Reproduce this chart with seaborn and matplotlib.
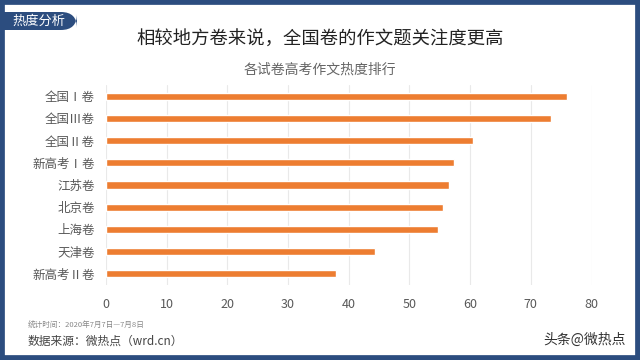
import matplotlib
matplotlib.use("Agg")
import matplotlib.pyplot as plt
import matplotlib.patches as mpatches
import seaborn as sns
import pandas as pd

# data
papers = ["全国Ⅰ卷", "全国Ⅲ卷", "全国Ⅱ卷", "新高考Ⅰ卷", "江苏卷",
          "北京卷", "上海卷", "天津卷", "新高考Ⅱ卷"]
heat = [75.9, 73.3, 60.5, 57.3, 56.6, 55.5, 54.7, 44.4, 37.9]
x_ticks = [0, 10, 20, 30, 40, 50, 60, 70, 80]

df = pd.DataFrame({"paper": papers, "heat": heat})

sns.set_theme(style="white")
plt.rcParams["font.family"] = ["Noto Sans CJK SC", "DejaVu Sans"]

frame_blue = "#2c4d7f"
orange = "#ED7D31"
gray = "#595959"

fig = plt.figure(figsize=(6.4, 3.6), dpi=100)
ax = fig.add_axes([106 / 640, 1 - 285 / 360, (591.5 - 106) / 640, 200 / 360])

sns.barplot(data=df, x="heat", y="paper", color=orange, width=0.32,
            saturation=1, ax=ax)

ax.set_xlim(0, 80)
ax.set_xticks(x_ticks)
ax.grid(axis="x", color="#e9e9e9", linewidth=0.8)
ax.set_axisbelow(True)
for s in ax.spines.values():
    s.set_visible(False)
ax.tick_params(axis="both", length=0, labelcolor=gray)
ax.tick_params(axis="y", labelsize=9, pad=8)
ax.tick_params(axis="x", labelsize=9, pad=9)
ax.set_xlabel("")
ax.set_ylabel("")

# frame around the card
fig.patches.append(mpatches.Rectangle((0, 0), 1, 1, transform=fig.transFigure,
                                      fill=False, edgecolor=frame_blue,
                                      linewidth=7, zorder=10))

# tag at top-left
fig.patches.append(mpatches.FancyBboxPatch((4 / 640, 1 - 30 / 360), 73 / 640, 18 / 360,
                                           boxstyle="round,pad=0,rounding_size=0.025",
                                           transform=fig.transFigure,
                                           facecolor=frame_blue, edgecolor="none",
                                           zorder=11, mutation_aspect=640 / 360))
fig.patches.append(mpatches.Rectangle((4 / 640, 1 - 30 / 360), 20 / 640, 18 / 360,
                                      transform=fig.transFigure,
                                      facecolor=frame_blue, edgecolor="none", zorder=11))
fig.text(12 / 640, 1 - 21 / 360, "热度分析", color="white", fontsize=9.5,
         va="center", ha="left", zorder=12)

fig.text(0.5, 1 - 40 / 360, "相较地方卷来说，全国卷的作文题关注度更高",
         fontsize=13.2, color="#222222", ha="center", va="center")
fig.text(0.5, 1 - 70 / 360, "各试卷高考作文热度排行",
         fontsize=10, color="#666666", ha="center", va="center")

fig.text(28 / 640, 1 - 326 / 360, "统计时间：2020年7月7日—7月8日",
         fontsize=5.5, color="#888888", ha="left", va="center")
fig.text(28 / 640, 1 - 341 / 360, "数据来源：微热点（wrd.cn）",
         fontsize=8.5, color="#444444", ha="left", va="center")
fig.text(626 / 640, 1 - 340 / 360, "头条@微热点",
         fontsize=10, color="#333333", ha="right", va="center")

fig.savefig("out.png", dpi=100)
